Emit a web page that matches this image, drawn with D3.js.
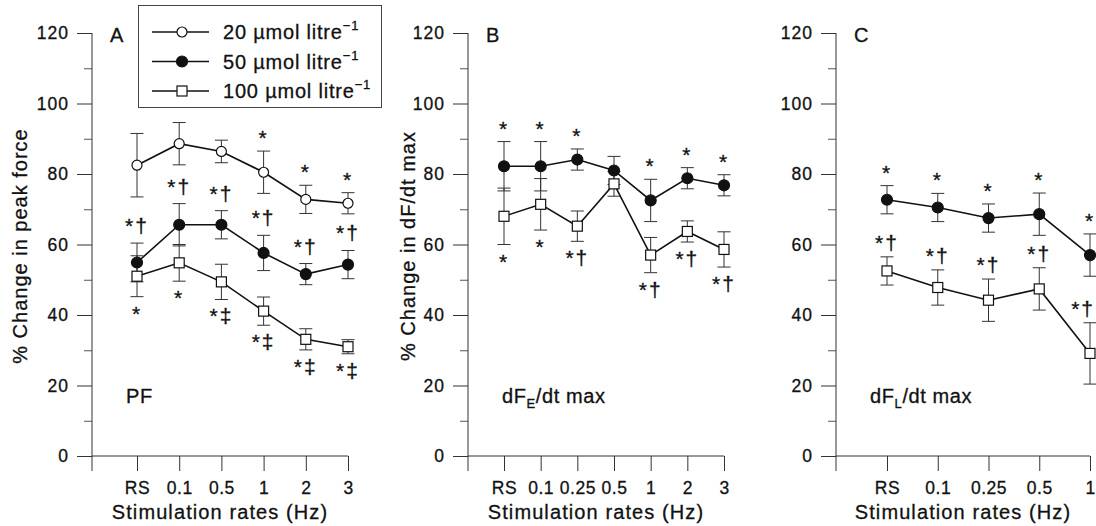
<!DOCTYPE html>
<html>
<head>
<meta charset="utf-8">
<script src="https://cdn.jsdelivr.net/npm/d3@7"></script>
<style>
  body { margin: 0; background: #fff; }
  text { font-family: "Liberation Sans", Arial, Helvetica, sans-serif; fill: #111; stroke: #111; stroke-width: 0.3px; }
</style>
</head>
<body>
<svg width="1096" height="526"></svg>
<script>
// values: mean % change and error bar half-length

// panel A - peak force
var ratesA = ['RS', '0.1', '0.5', '1', '2', '3'];
var a20 = [82.5, 88.6, 86.4, 80.5, 72.8, 71.7];
var a20err = [9, 6, 3.2, 6, 4, 3];
var a20marks = ['', '', '', '*', '*', '*'];
var a50 = [54.9, 65.6, 65.6, 57.6, 51.6, 54.3];
var a50err = [5.5, 6, 4, 5, 3, 4];
var a50marks = ['*†', '*†', '*†', '*†', '*†', '*†'];
var a100 = [51, 54.8, 49.4, 41.1, 33.1, 31];
var a100err = [5.8, 5.2, 5, 4, 3, 2];
var a100marks = ['*', '*', '*‡', '*‡', '*‡', '*‡'];

// panel B - dF/dt max (E)
var ratesB = ['RS', '0.1', '0.25', '0.5', '1', '2', '3'];
var b50 = [82.2, 82.2, 84.1, 81, 72.5, 78.8, 76.8];
var b50err = [7, 7, 3, 4, 6, 3, 3];
var b50marks = ['*', '*', '*', '', '*', '*', '*'];
var b100 = [68, 71.4, 65.2, 77.2, 57, 63.7, 58.6];
var b100err = [8, 7.3, 4.3, 3.5, 5, 3, 5];
var b100marks = ['*', '*', '*†', '', '*†', '*†', '*†'];

// panel C - dF/dt max (L)
var ratesC = ['RS', '0.1', '0.25', '0.5', '1'];
var c50 = [72.7, 70.5, 67.5, 68.6, 57];
var c50err = [4, 4, 4, 6, 6];
var c50marks = ['*', '*', '*', '*', '*'];
var c100 = [52.5, 47.8, 44.2, 47.4, 29.1];
var c100err = [4, 5, 6, 6, 8.7];
var c100marks = ['*†', '*†', '*†', '*†', '*†'];

var yTicks = [0, 20, 40, 60, 80, 100, 120];
var yMinor = [10, 30, 50, 70, 90, 110];
var legendLabels = ['20 µmol litre', '50 µmol litre', '100 µmol litre'];

var W = 1096;
var svg = d3.select('svg');
var y = d3.scaleLinear().domain([0, 120]).range([456, 33]);

var panels = [
  {letter: 'A', axisX: 92, first: 137, last: 348, rates: ratesA,
   ytitle: '% Change in peak force', ytitleX: 20, name: ['PF', '', ''],
   series: [
     {type: 'open', vals: a20, err: a20err, marks: a20marks, pos: 'above', gap: 6},
     {type: 'filled', vals: a50, err: a50err, marks: a50marks, pos: 'above', gap: 10},
     {type: 'square', vals: a100, err: a100err, marks: a100marks, pos: 'below', gap: 24}
   ]},
  {letter: 'B', axisX: 468, first: 504, last: 724, rates: ratesB,
   ytitle: '% Change in dF/dt max', ytitleX: 408, name: ['dF', 'E', '/dt max'],
   series: [
     {type: 'filled', vals: b50, err: b50err, marks: b50marks, pos: 'above', gap: 6},
     {type: 'square', vals: b100, err: b100err, marks: b100marks, pos: 'below', gap: 24}
   ]},
  {letter: 'C', axisX: 836, first: 887, last: 1090, rates: ratesC,
   ytitle: null, name: ['dF', 'L', '/dt max'],
   series: [
     {type: 'filled', vals: c50, err: c50err, marks: c50marks, pos: 'above', gap: 6},
     {type: 'square', vals: c100, err: c100err, marks: c100marks, pos: 'above', gap: 7}
   ]}
];

function drawMarker(g, type, cx, cy) {
  if (type === 'square') {
    g.append('rect')
      .attr('x', cx - 5).attr('y', cy - 5)
      .attr('width', 10).attr('height', 10)
      .attr('fill', '#fff').attr('stroke', '#111').attr('stroke-width', 1.2);
  } else {
    g.append('circle')
      .attr('cx', cx).attr('cy', cy).attr('r', type === 'open' ? 5 : 5.5)
      .attr('fill', type === 'open' ? '#fff' : '#111')
      .attr('stroke', '#111').attr('stroke-width', 1.2);
  }
}

panels.forEach(p => {
  var x = d3.scalePoint().domain(p.rates).range([p.first, p.last]);
  var g = svg.append('g');

  // y axis
  var yAxis = g.append('g')
    .attr('transform', 'translate(' + p.axisX + ',0)')
    .call(d3.axisLeft(y).tickValues(yTicks).tickSize(15).tickPadding(8));
  yAxis.select('.domain').remove();
  yAxis.selectAll('line').attr('stroke', '#333');
  yAxis.selectAll('text')
    .style('font-size', '17.5px').style('letter-spacing', '1px')
    .attr('font-family', null);
  var yMin = g.append('g')
    .attr('transform', 'translate(' + p.axisX + ',0)')
    .call(d3.axisLeft(y).tickValues(yMinor).tickSize(8).tickFormat(''));
  yMin.select('.domain').remove();
  yMin.selectAll('line').attr('stroke', '#555');
  g.append('line')
    .attr('x1', p.axisX).attr('x2', p.axisX)
    .attr('y1', y(120)).attr('y2', y(0) + 15)
    .attr('stroke', '#333');

  // x axis
  var xAxis = g.append('g')
    .attr('transform', 'translate(0,' + y(0) + ')')
    .call(d3.axisBottom(x).tickSize(15).tickPadding(11));
  xAxis.select('.domain').remove();
  xAxis.selectAll('line').attr('stroke', '#333');
  xAxis.selectAll('text')
    .style('font-size', '17.5px').style('letter-spacing', '0.5px')
    .attr('font-family', null);
  g.append('line')
    .attr('x1', p.axisX).attr('x2', p.last)
    .attr('y1', y(0)).attr('y2', y(0))
    .attr('stroke', '#333');

  g.append('text')
    .attr('x', (p.axisX + p.last) / 2).attr('y', 519)
    .attr('text-anchor', 'middle')
    .style('font-size', '20px').style('letter-spacing', '1.1px')
    .text('Stimulation rates (Hz)');

  if (p.ytitle) {
    g.append('text')
      .attr('transform', 'translate(' + (p.ytitleX + 7) + ',' + 246 + ') rotate(-90)')
      .attr('text-anchor', 'middle')
      .style('font-size', '20px').style('letter-spacing', '1px')
      .text(p.ytitle);
  }

  g.append('text')
    .attr('x', p.axisX + 18).attr('y', 42)
    .style('font-size', '20px')
    .text(p.letter);

  var nm = g.append('text')
    .attr('x', p.axisX + 34).attr('y', 403)
    .style('font-size', '20px').style('letter-spacing', '0.6px');
  nm.append('tspan').text(p.name[0]);
  if (p.name[1]) {
    nm.append('tspan').attr('dy', 5).style('font-size', '13px').text(p.name[1]);
    nm.append('tspan').attr('dy', -5).text(p.name[2]);
  }

  var line = d3.line()
    .x((d, i) => x(p.rates[i]))
    .y(d => y(d));

  p.series.forEach(s => {
    g.append('path')
      .attr('d', line(s.vals))
      .attr('fill', 'none').attr('stroke', '#111').attr('stroke-width', 1.6);
  });

  p.series.forEach(s => {
    s.vals.forEach((v, i) => {
      var cx = x(p.rates[i]);
      var top = y(v + s.err[i]), bot = y(v - s.err[i]);
      g.append('line').attr('x1', cx).attr('x2', cx).attr('y1', top).attr('y2', bot)
        .attr('stroke', '#333');
      [top, bot].forEach(cy => {
        g.append('line').attr('x1', cx - 6.5).attr('x2', cx + 6.5).attr('y1', cy).attr('y2', cy)
          .attr('stroke', '#333');
      });
    });
  });

  p.series.forEach(s => {
    s.vals.forEach((v, i) => {
      drawMarker(g, s.type, x(p.rates[i]), y(v));
    });
  });

  p.series.forEach(s => {
    s.marks.forEach((m, i) => {
      if (!m) return;
      var ty = s.pos === 'above' ? y(s.vals[i] + s.err[i]) - s.gap : y(s.vals[i] - s.err[i]) + s.gap;
      var t = g.append('text')
        .attr('x', x(p.rates[i])).attr('y', ty)
        .attr('text-anchor', 'middle')
        .style('font-size', '21px').style('letter-spacing', '2px')
        .text(m);
      // the last column of panel C runs into the page edge
      var bb = t.node().getBBox();
      if (bb.x + bb.width > W) t.attr('x', x(p.rates[i]) - (bb.x + bb.width - W) - 1);
    });
  });
});

// legend
var leg = svg.append('g');
leg.append('rect')
  .attr('x', 138.5).attr('y', 5.5).attr('width', 243).attr('height', 102)
  .attr('fill', '#fff').attr('stroke', '#444');
['open', 'filled', 'square'].forEach((t, i) => {
  var ly = 32 + i * 29.5;
  leg.append('line').attr('x1', 152).attr('x2', 209).attr('y1', ly).attr('y2', ly)
    .attr('stroke', '#111').attr('stroke-width', 1.4);
  drawMarker(leg, t, 182, ly);
  var tx = leg.append('text').attr('x', 223).attr('y', ly + 7)
    .style('font-size', '20px').style('letter-spacing', '0.8px');
  tx.append('tspan').text(legendLabels[i]);
  tx.append('tspan').attr('dy', -9).style('font-size', '13px').text('−1');
});
</script>
</body>
</html>
